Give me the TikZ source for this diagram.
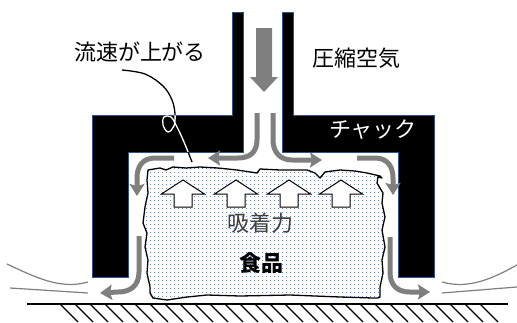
\documentclass[tikz,border=0pt]{standalone}
\usepackage{fontspec}
\setmainfont{Noto Sans CJK JP}
\usetikzlibrary{arrows.meta}
\definecolor{flowgray}{HTML}{7F7F7F}
\definecolor{chuckedge}{HTML}{2F528F}
\definecolor{dotblue}{HTML}{6A8BE0}
\definecolor{forcegray}{HTML}{404040}
% rough outline of the food
\def\foodpath{(148,170) -- (160,168) -- (166,170) -- (173,167) -- (186,168) -- (200,167)
  -- (218,168) -- (237,170) -- (257,173) -- (260,169) -- (280,170) -- (307,170)
  -- (315,173) -- (320,178) -- (325,172) -- (340,170) -- (355,171) -- (367,173)
  -- (380,176) -- (382,178) -- (378,177) -- (377,183) -- (383,193) -- (382,203)
  -- (385,217) -- (382,230) -- (385,247) -- (382,260) -- (383,273) -- (380,287)
  -- (380,297) -- (378,298) -- (373,298) -- (340,297) -- (290,295) -- (240,296)
  -- (207,295) -- (187,297) -- (167,300) -- (153,298) -- (150,293) -- (150,287)
  -- (147,273) -- (148,260) -- (145,247) -- (147,233) -- (143,223) -- (145,207)
  -- (148,193) -- (147,180) -- cycle}

\begin{document}
\begin{tikzpicture}[
  x=1pt, y=-1pt,
  chuck/.style={fill=black, draw=chuckedge, line width=0.8pt},
  flow/.style={draw=flowgray, line width=5pt, -{Stealth[length=12pt, width=15pt, inset=2pt]}},
  ambient/.style={draw=flowgray, line width=1.2pt},
  lbl/.style={font=\fontsize{22}{26}\selectfont, inner sep=0pt},
  uparrow/.style={draw=black, line width=1pt, fill=white, line join=miter}
]
\useasboundingbox (0,0) rectangle (517,322);

% chuck halves
\path[chuck] (92,115) -- (232,115) -- (232,12) -- (243,12) -- (243,152)
  -- (128,152) -- (128,277) -- (92,277) -- cycle;
\path[chuck] (282,12) -- (293,12) -- (293,115) -- (434,115) -- (434,277)
  -- (398,277) -- (398,152) -- (282,152) -- cycle;

% floor
\draw[line width=1.5pt] (27,304) -- (508,304);
\begin{scope}
  \clip (20,304) rectangle (517,322);
  \foreach \hx in {60,75,...,480}
    \draw[line width=1.2pt] (\hx,304) -- ++(18,18);
\end{scope}

% food: white body, blue dots, black outline
\fill[white] \foodpath;
\begin{scope}
  \clip \foodpath;
  \foreach \i in {0,...,61}
    \foreach \j in {0,...,34}
      \fill[dotblue] (142+4*\i,164+4*\j) rectangle ++(1.1,1.1);
\end{scope}
\draw[line width=1.3pt, line join=round] \foodpath;

% suction force arrows
\foreach \cx in {183,236,289,341}
  \draw[uparrow] (\cx,180) -- (\cx+21.5,194) -- (\cx+9,194) -- (\cx+9,207)
    -- (\cx-9,207) -- (\cx-9,194) -- (\cx-21.5,194) -- cycle;

% labels
\node[lbl] (rate) at (140,52) {流速が上がる};
\node[lbl] (air) at (356,58) {圧縮空気};
\node[lbl, text=white] (chucklbl) at (373,130) {チャック};
\node[lbl, text=forcegray] (force) at (260,223) {吸着力};
\node[lbl, font=\fontsize{22}{26}\selectfont\bfseries] (food) at (261,263) {食品};

% supply air
\fill[flowgray] (256,28) -- (272,28) -- (272,77) -- (278,77) -- (264,92)
  -- (250,77) -- (256,77) -- cycle;

% air flow around the food
\draw[flow] (257,113) -- (257,140) .. controls (257,152) and (250,158) .. (238,158) -- (208,158);
\draw[flow] (273,113) -- (273,140) .. controls (273,152) and (280,160) .. (292,160) -- (322,160);
\draw[flow] (174,158) -- (155,158) .. controls (143,158) and (137,166) .. (137,178) -- (137,196);
\draw[flow] (357,158) -- (375,158) .. controls (387,158) and (393,166) .. (393,178) -- (393,195);
\draw[flow] (139,236) -- (139,272) .. controls (139,286) and (130,292) .. (118,292) -- (100,293);
\draw[flow] (390,237) -- (390,272) .. controls (390,286) and (398,292) .. (410,292) -- (430,292);

% outside air
\draw[ambient] (7,264) .. controls (35,277) and (60,290) .. (88,282);
\draw[ambient] (10,288) -- (88,293);
\draw[ambient] (442,282) .. controls (470,290) and (495,277) .. (517,265);
\draw[ambient] (442,293) -- (517,287);

% leader for the flow speed label
\def\leader{plot[smooth, tension=0.6] coordinates {(122,70) (145,74) (163,86) (172,100)
  (175,114) (174,126) (168,132) (163,125) (164,117) (171,117) (177,127) (184,142) (192,162)}}
\draw[line width=1.3pt] \leader;
\begin{scope}
  \clip (128,115.4) rectangle (243,151.6);
  \draw[white, line width=1.3pt] \leader;
\end{scope}
\end{tikzpicture}
\end{document}
